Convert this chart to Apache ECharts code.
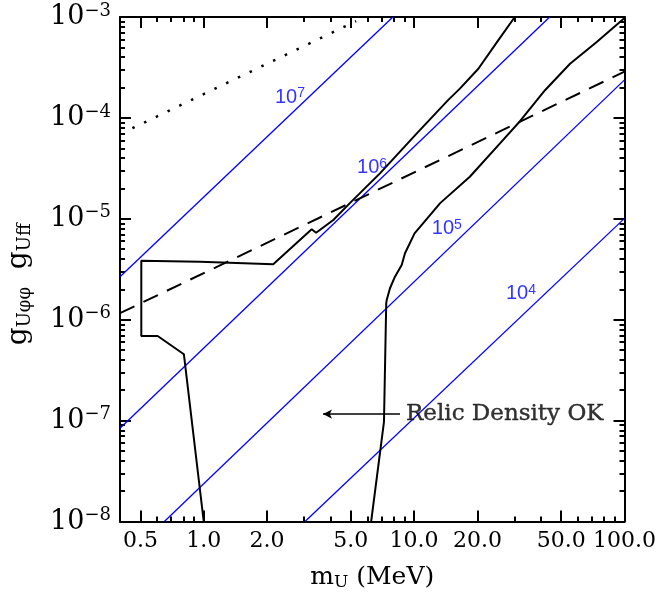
<!DOCTYPE html>
<html>
<head>
<meta charset="utf-8">
<script src="https://cdn.jsdelivr.net/npm/echarts@6/dist/echarts.min.js"></script>
<style>html,body{margin:0;padding:0;background:#fff}#c{width:658px;height:599px}</style>
</head>
<body>
<div id="c"></div>
<script>
// ---- data (m_U in MeV, coupling product) ----
const xMajor = [0.5, 1, 2, 5, 10, 20, 50, 100];
const xMinor = [0.6, 0.7, 0.8, 0.9, 3, 4, 6, 7, 8, 9, 30, 40, 60, 70, 80, 90];
const yMajor = [1e-8, 1e-7, 1e-6, 1e-5, 1e-4, 1e-3];
const yMinor = [];
for (const d of [1e-8, 1e-7, 1e-6, 1e-5, 1e-4]) for (const k of [2,3,4,5,6,7,8,9]) yMinor.push(+(k*d).toPrecision(2));

const curveA = [[1.0,1e-8],[0.805,4.54e-7],[0.604,6.9e-7],[0.505,6.9e-7],[0.505,3.85e-6],[0.96,3.76e-6],[2.14,3.54e-6],[3.26,7.87e-6],[3.42,7.28e-6],[4.13,9.73e-6],[4.95,1.43e-5],[6.88,2.82e-5],[10.3,7.03e-5],[14.5,1.5e-4],[16.5,1.95e-4],[20.2,3.07e-4],[25.1,5.87e-4],[30.1,1e-3]];
const curveB = [[6.25,1e-8],[7.19,9.7e-8],[7.37,1.45e-6],[7.41,1.57e-6],[7.68,2.05e-6],[8.11,2.67e-6],[8.73,3.48e-6],[9.05,4.55e-6],[10.05,7.18e-6],[13.3,1.43e-5],[18.4,2.61e-5],[25.6,5.6e-5],[31.3,8.9e-5],[41.9,1.88e-4],[55.1,3.44e-4],[73.8,5.65e-4],[100,9.8e-4]];
const dashedLine = [[0.4,1.16e-6],[100,2.87e-4]];
const dottedLine = [[0.458,7.9e-5],[5.3,9.1e-4]];
const blueLines = [
  [[0.4,2.67e-6],[7.93,1e-3]],
  [[0.4,8.39e-8],[44.1,1e-3]],
  [[0.65,1e-8],[100,2.38e-4]],
  [[3.03,1e-8],[100,1.01e-5]]
];
const blueLabels = [[2.57,1.61e-4,'7'],[6.31,3.19e-5,'6'],[14.3,7.93e-6,'5'],[32.2,1.8e-6,'4']];
const arrowFrom = [8.57,1.16e-7], arrowTo = [3.69,1.16e-7];
const noteAt = [9.15,1.16e-7];
const noteText = 'Relic Density OK';

const SERIF = 'DejaVu Serif';
const frame = {show:true, lineStyle:{color:'#000', width:2}};
function xAx(pos, vals, len, labels, line) {
  return {
    type:'log', logBase:10, min:0.4, max:100, position:pos,
    axisLine: line ? frame : {show:false},
    axisTick:{show:true, inside:true, length:len, customValues:vals, lineStyle:{color:'#000', width:2}},
    axisLabel: labels ? {show:true, customValues:vals, margin:9, color:'#000', fontFamily:SERIF, fontSize:22,
      formatter:v=>(+v).toFixed(1)} : {show:false},
    splitLine:{show:false}, minorTick:{show:false}
  };
}
function yAx(pos, vals, len, labels, line) {
  return {
    type:'log', logBase:10, min:1e-8, max:1e-3, position:pos,
    axisLine: line ? frame : {show:false},
    axisTick:{show:true, inside:true, length:len, customValues:vals, lineStyle:{color:'#000', width:2}},
    axisLabel: labels ? {show:true, customValues:vals, margin:9, color:'#000', fontFamily:SERIF,
      formatter:v=>'{a|10}{b|−'+Math.round(-Math.log10(v))+'}',
      rich:{a:{fontSize:27, fontFamily:SERIF, color:'#000', lineHeight:30}, b:{fontSize:18, fontFamily:SERIF, color:'#000', verticalAlign:'top', lineHeight:18}}} : {show:false},
    splitLine:{show:false}, minorTick:{show:false}
  };
}
const xAxes = [xAx('bottom', xMajor, 11, true, true), xAx('bottom', xMinor, 5, false, false), xAx('top', xMajor, 11, false, true), xAx('top', xMinor, 5, false, false)];
xAxes[0].name = '{m|m}{s|U}{m|\u00a0(MeV)}';
xAxes[0].nameLocation = 'middle';
xAxes[0].nameGap = 42;
xAxes[0].nameTextStyle = {rich:{m:{fontSize:25, fontFamily:SERIF, color:'#000', lineHeight:28}, s:{fontSize:17, fontFamily:SERIF, color:'#000', verticalAlign:'bottom', lineHeight:16}}};
const yAxes = [yAx('left', yMajor, 11, true, true), yAx('left', yMinor, 5, false, false), yAx('right', yMajor, 11, false, true), yAx('right', yMinor, 5, false, false)];
yAxes[0].name = '{m|g}{s|Uφφ}{m|\u00a0\u00a0g}{s|Uff}';
yAxes[0].nameLocation = 'middle';
yAxes[0].nameGap = 86;
yAxes[0].nameRotate = 90;
yAxes[0].nameTextStyle = {padding:[0,30,0,0], rich:{m:{fontSize:28, fontFamily:SERIF, color:'#000', lineHeight:30}, s:{fontSize:18, fontFamily:SERIF, color:'#000', verticalAlign:'bottom', lineHeight:17}}};

const series = [];
blueLines.forEach(d=>series.push({type:'line', data:d, symbol:'none', silent:true, lineStyle:{color:'#0000ff', width:1.3}, z:2}));
series.push({type:'line', data:dashedLine, symbol:'none', lineStyle:{color:'#000', width:2, type:[16,10]}, z:3});
series.push({type:'line', data:dottedLine, symbol:'none', lineStyle:{color:'#000', width:2.5, type:[2.5,10.5]}, z:3});
series.push({type:'line', data:curveA, symbol:'none', lineStyle:{color:'#000', width:2}, z:4});
series.push({type:'line', data:curveB, symbol:'none', lineStyle:{color:'#000', width:2}, z:4});
series.push({type:'scatter', data:blueLabels.map(d=>[d[0],d[1],d[2]]), symbolSize:0, z:5,
  label:{show:true, position:'inside', formatter:p=>'{a|10}{b|'+p.data[2]+'}',
    rich:{a:{fontSize:20, fontFamily:'Liberation Sans', color:'#0000ff', lineHeight:21}, b:{fontSize:14, fontFamily:'Liberation Sans', color:'#0000ff', verticalAlign:'top', lineHeight:14}}}});
series.push({type:'scatter', data:[noteAt], symbolSize:0, z:5,
  label:{show:true, position:'right', distance:0, formatter:noteText, fontFamily:SERIF, fontSize:23, color:'#000', textBorderColor:'#000', textBorderWidth:0.4},
  markLine:{silent:true, symbol:['none','arrow'], symbolSize:[7,9], lineStyle:{color:'#000', width:1.5, type:'solid'}, label:{show:false},
    data:[[{coord:arrowFrom},{coord:arrowTo}]]}});

const chart = echarts.init(document.getElementById('c'), null, {renderer:'canvas'});
chart.setOption({
  animation:false,
  backgroundColor:'#fff',
  grid:{left:120, right:33.5, top:17, bottom:77.5, containLabel:false, outerBoundsMode:'none'},
  xAxis:xAxes, yAxis:yAxes, series:series
});
</script>
</body>
</html>
